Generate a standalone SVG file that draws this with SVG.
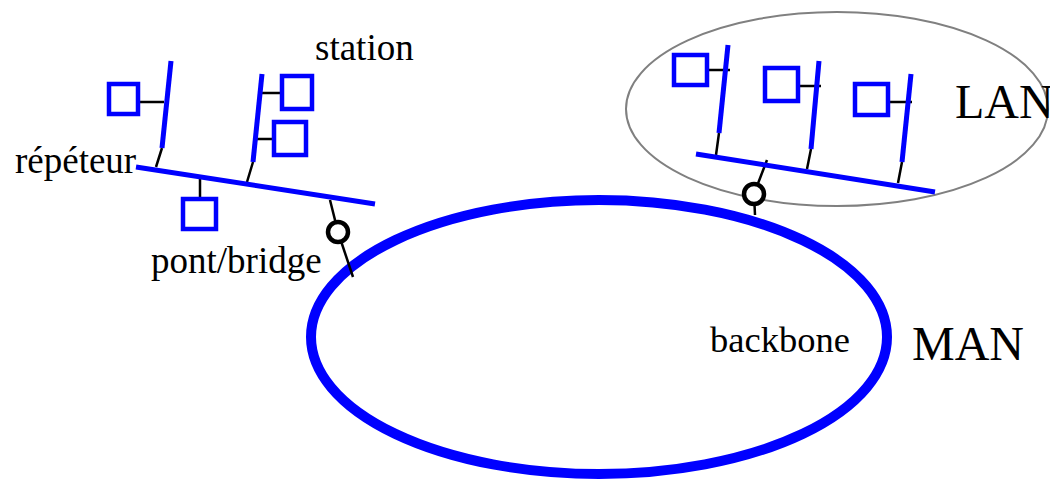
<svg xmlns="http://www.w3.org/2000/svg" width="1050" height="480" viewBox="0 0 1050 480">
<style>
.bus{stroke:#0000ff;stroke-width:5;fill:none}
.sta{stroke:#0000ff;stroke-width:4.5;fill:none}
.tap{stroke:#000;stroke-width:2.5;fill:none}
.br{stroke:#000;stroke-width:4.5;fill:#fff}
.t{font-family:"Liberation Serif","Times New Roman",serif;fill:#000}
</style>
<rect width="1050" height="480" fill="#fff"/>
<g id="lan-area"><ellipse cx="837" cy="109" rx="211" ry="97" fill="none" stroke="#808080" stroke-width="2"/></g>
<g id="backbone"><ellipse cx="599" cy="337" rx="288" ry="137" fill="none" stroke="#0000ff" stroke-width="10"/></g>
<g id="connectors">
<path class="tap" d="M140,102H164 M162,148L156,167 M200,176V199 M253,162L247,182 M260,93H280 M255,139H272 M330,200L338,232 M338,232L353,277"/>
<path class="tap" d="M709,70H730 M719,133L716,155 M800,86H821 M811,149L807,169 M890,102H912 M902,162L898,183 M767,160L754,194 M754,194L755,215"/>
</g>
<g id="left-lan">
<line class="bus" x1="136" y1="167" x2="375" y2="204"/>
<line class="bus" x1="171" y1="61" x2="162" y2="148"/>
<line class="bus" x1="262" y1="74" x2="253" y2="162"/>
</g>
<g id="right-lan">
<line class="bus" x1="696" y1="154" x2="935" y2="192"/>
<line class="bus" x1="728" y1="45" x2="719" y2="133"/>
<line class="bus" x1="819" y1="61" x2="811" y2="149"/>
<line class="bus" x1="911" y1="74" x2="902" y2="162"/>
</g>
<g id="station1"><rect class="sta" x="109" y="84" width="29" height="30"/></g>
<g id="station2"><rect class="sta" x="183" y="199" width="33" height="30"/></g>
<g id="station3"><rect class="sta" x="282" y="76" width="30" height="33"/></g>
<g id="station4"><rect class="sta" x="274" y="122" width="32" height="33"/></g>
<g id="station5"><rect class="sta" x="674" y="55" width="33" height="30"/></g>
<g id="station6"><rect class="sta" x="765" y="68" width="33" height="33"/></g>
<g id="station7"><rect class="sta" x="855" y="84" width="33" height="31"/></g>
<g id="bridge1"><circle class="br" cx="338" cy="232" r="10"/></g>
<g id="bridge2"><circle class="br" cx="754" cy="194" r="10"/></g>
<g id="labels">
<text class="t" x="315" y="60" font-size="37">station</text>
<text class="t" x="15" y="173" font-size="37">répéteur</text>
<text class="t" x="151" y="273" font-size="37">pont/bridge</text>
<text class="t" x="710" y="352" font-size="36.5">backbone</text>
<text class="t" x="912" y="360" font-size="48">MAN</text>
<text class="t" x="955" y="118" font-size="48">LAN</text>
</g>
</svg>
